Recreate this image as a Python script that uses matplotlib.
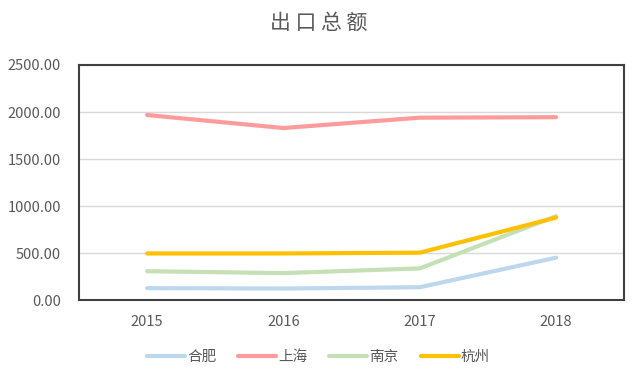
import matplotlib.pyplot as plt

plt.rcParams['font.family'] = ['Noto Sans CJK SC', 'DejaVu Sans']

years = ['2015', '2016', '2017', '2018']
hefei = [128, 124, 138, 452]
shanghai = [1968, 1830, 1940, 1945]
nanjing = [308, 288, 338, 893]
hangzhou = [497, 497, 505, 878]

series = [('合肥', hefei, '#BDD7EE'),
          ('上海', shanghai, '#FF9B9B'),
          ('南京', nanjing, '#C5E0B4'),
          ('杭州', hangzhou, '#FFC000')]

fig = plt.figure(figsize=(6.37, 3.8), dpi=100)
ax = fig.add_axes([0.124, 0.21, 0.856, 0.619])

x = range(len(years))
for name, vals, color in series:
    ax.plot(x, vals, color=color, lw=3, label=name, solid_capstyle='round')

ax.set_xlim(-0.5, 3.5)
ax.set_ylim(0, 2500)
ax.set_yticks([0, 500, 1000, 1500, 2000, 2500])
ax.set_yticklabels(['%.2f' % v for v in [0, 500, 1000, 1500, 2000, 2500]])
ax.set_xticks(list(x))
ax.set_xticklabels(years)
ax.yaxis.grid(True, color='#D9D9D9', lw=1)
ax.set_axisbelow(True)
ax.tick_params(length=0, labelsize=10.5, labelcolor='#595959')
ax.tick_params(axis='y', pad=13)
ax.tick_params(axis='x', pad=11)
for s in ax.spines.values():
    s.set_color('#404040')
    s.set_linewidth(1.5)

fig.text(0.5, 0.94, '出 口 总 额', ha='center', va='center', fontsize=15, color='#595959')
fig.legend(loc='center', bbox_to_anchor=(0.5, 0.06), ncol=4, frameon=False,
           fontsize=10.5, labelcolor='#595959', handlelength=2.6, handletextpad=0.15,
           columnspacing=1.5)

fig.savefig('out.png', dpi=100)
